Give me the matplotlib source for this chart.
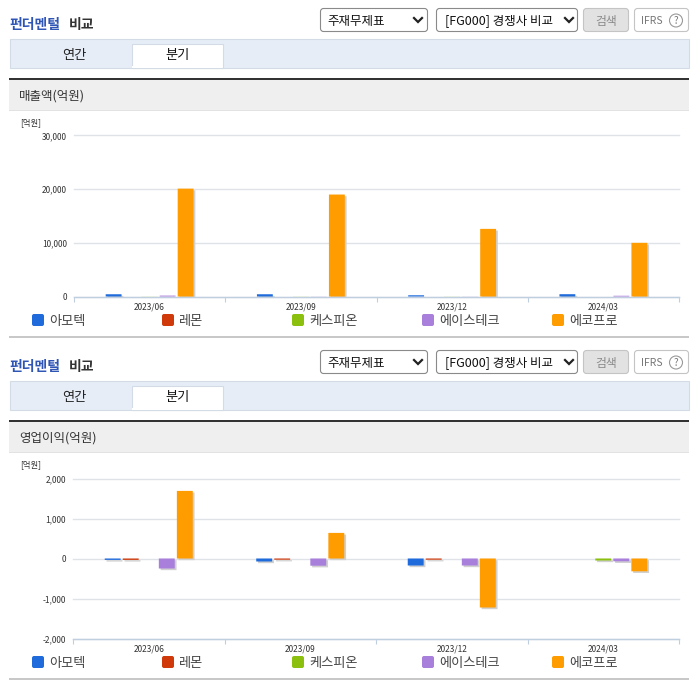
import matplotlib
matplotlib.use("Agg")
import matplotlib.pyplot as plt
import matplotlib.patheffects as pe
from matplotlib.patches import Rectangle, FancyBboxPatch, Circle
import numpy as np

plt.rcParams['font.family'] = ['Noto Sans CJK KR', 'DejaVu Sans']

quarters = ['2023/06', '2023/09', '2023/12', '2024/03']
companies = ['아모텍', '레몬', '케스피온', '에이스테크', '에코프로']
colors = ['#1f6bdc', '#d03a0a', '#8cc00e', '#a97fdc', '#ff9c00']

sales_amotec = [420, 420, 230, 430]
sales_lemon = [0, 0, 0, 0]
sales_kespion = [15, 15, 15, 0]
sales_acetech = [170, 20, 20, 140]
sales_ecopro = [20100, 19000, 12600, 10000]

op_amotec = [-35, -75, -175, 0]
op_lemon = [-35, -30, -30, 0]
op_kespion = [0, 0, 0, -50]
op_acetech = [-250, -180, -175, -70]
op_ecopro = [1690, 640, -1225, -320]

sales_ticks = [0, 10000, 20000, 30000]
op_ticks = [-2000, -1000, 0, 1000, 2000]

W, H = 696, 684
fig = plt.figure(figsize=(W / 100, H / 100), dpi=100, facecolor='white')
bg = fig.add_axes([0, 0, 1, 1])
bg.set_xlim(0, W)
bg.set_ylim(H, 0)
bg.axis('off')


def rect(x0, y0, x1, y1, fc, ec='none', lw=0.8, z=1):
    bg.add_patch(Rectangle((x0, y0), x1 - x0, y1 - y0, fc=fc, ec=ec, lw=lw, zorder=z))


def rbox(x0, y0, x1, y1, fc, ec):
    bg.add_patch(FancyBboxPatch((x0 + 2, y0 + 2), x1 - x0 - 4, y1 - y0 - 4,
                                boxstyle='round,pad=2,rounding_size=3', fc=fc, ec=ec, lw=0.8, zorder=2))


def chevron(x, y):
    bg.plot([x - 4, x, x + 4], [y - 2, y + 2, y - 2], color='#222222', lw=1.6, zorder=3,
            solid_joinstyle='miter')


def panel(dy, heading):
    bg.text(9, 24.5 + dy, '펀더멘털', color='#2f55b5', fontsize=10, fontweight='bold', va='center', ha='left')
    bg.text(69, 24.5 + dy, '비교', color='#333333', fontsize=10, fontweight='bold', va='center', ha='left')
    rbox(320.5, 8.5 + dy, 427.5, 31.5 + dy, 'white', '#8a8a8a')
    bg.text(327, 21 + dy, '주재무제표', fontsize=9, color='#111111', va='center')
    chevron(418, 20 + dy)
    rbox(436.5, 8.5 + dy, 577.5, 31.5 + dy, 'white', '#8a8a8a')
    bg.text(445, 21 + dy, '[FG000] 경쟁사 비교', fontsize=9, color='#111111', va='center')
    chevron(569, 20 + dy)
    rbox(583.5, 8.5 + dy, 628.5, 31.5 + dy, '#e2e2e2', '#c4c4c4')
    bg.text(606, 21 + dy, '검색', fontsize=8.5, color='#8a8a8a', va='center', ha='center')
    rbox(634.5, 8.5 + dy, 688.5, 31.5 + dy, 'white', '#c4c4c4')
    bg.text(641, 21 + dy, 'IFRS', fontsize=7.5, color='#777777', va='center')
    bg.add_patch(Circle((676, 20.5 + dy), 6.5, fc='white', ec='#999999', lw=0.8, zorder=3))
    bg.text(676, 21 + dy, '?', fontsize=7, color='#777777', va='center', ha='center', zorder=4)
    rect(9.5, 38.5 + dy, 688.5, 67.5 + dy, '#e6edf7', '#d3dbe6')
    rect(131.5, 43.5 + dy, 222.5, 68 + dy, 'white', '#d3dbe6', z=2)
    rect(132, 66 + dy, 222, 68 + dy, 'white', z=3)
    bg.text(74, 55.5 + dy, '연간', fontsize=9.5, color='#222222', va='center', ha='center')
    bg.text(177, 55.5 + dy, '분기', fontsize=9.5, color='#111111', va='center', ha='center', zorder=4)
    rect(9, 79 + dy, 689, 110 + dy, '#efefef')
    rect(9, 110 + dy, 689, 111 + dy, '#e2e2e2')
    rect(9, 78 + dy, 689, 80 + dy, '#333333', z=2)
    bg.text(19, 96.5 + dy, heading, fontsize=9, color='#333333', va='center')
    bg.text(20, 122.5 + dy, '[억원]', fontsize=6, color='#333333', va='center')
    for i, (name, col) in enumerate(zip(companies, colors)):
        x = 32 + 130 * i
        bg.add_patch(FancyBboxPatch((x + 1.5, 315.5 + dy), 9, 9, boxstyle='round,pad=1.5,rounding_size=2',
                                    fc=col, ec='none', zorder=2))
        bg.text(x + 17, 321.5 + dy, name, fontsize=9.5, color='#444444', va='center')
    rect(9, 336 + dy, 689, 338 + dy, '#c8c8c8')


def chart(left, right, top, bottom, series, ticks, y0, y1):
    ax = fig.add_axes([left / W, 1 - bottom / H, (right - left) / W, (bottom - top) / H])
    ax.patch.set_alpha(0)
    ax.set_xlim(-0.5, 3.5)
    ax.set_ylim(y0, y1)
    x = np.arange(len(quarters))
    shadow = [pe.SimplePatchShadow(offset=(1.3, -1.2), shadow_rgbFace='#d0d0d0', alpha=1), pe.Normal()]
    for i, (vals, col) in enumerate(zip(series, colors)):
        bars = ax.bar(x + (i - 2) * 0.119, vals, width=0.105, color=col, zorder=3, path_effects=shadow)
        for b in bars:
            b.set_snap(False)
    ax.set_yticks(ticks)
    ax.set_yticklabels([f'{t:,}' for t in ticks], fontsize=6, color='#333333')
    ax.yaxis.grid(True, color='#dfe3e8', lw=1, clip_on=False)
    ax.set_axisbelow(True)
    ax.tick_params(axis='y', length=0, pad=5)
    ax.set_xticks(np.arange(-0.5, 3.6, 1))
    ax.set_xticklabels([])
    ax.set_xticks(x, minor=True)
    ax.set_xticklabels(quarters, minor=True, fontsize=6, color='#333333')
    ax.tick_params(axis='x', which='major', length=3.5, color='#c0cfdf', width=0.8)
    ax.tick_params(axis='x', which='minor', length=0, pad=4.5)
    for s in ('top', 'left', 'right'):
        ax.spines[s].set_visible(False)
    ax.spines['bottom'].set_color('#c0cfdf')
    ax.spines['bottom'].set_linewidth(1)
    return ax


panel(0, '매출액(억원)')
panel(342, '영업이익(억원)')
chart(74, 679, 135.5, 296.5,
      [sales_amotec, sales_lemon, sales_kespion, sales_acetech, sales_ecopro], sales_ticks, 0, 30000)
chart(73, 679, 478.5, 638.5,
      [op_amotec, op_lemon, op_kespion, op_acetech, op_ecopro], op_ticks, -2000, 2000)

fig.savefig('out.png', dpi=100)
